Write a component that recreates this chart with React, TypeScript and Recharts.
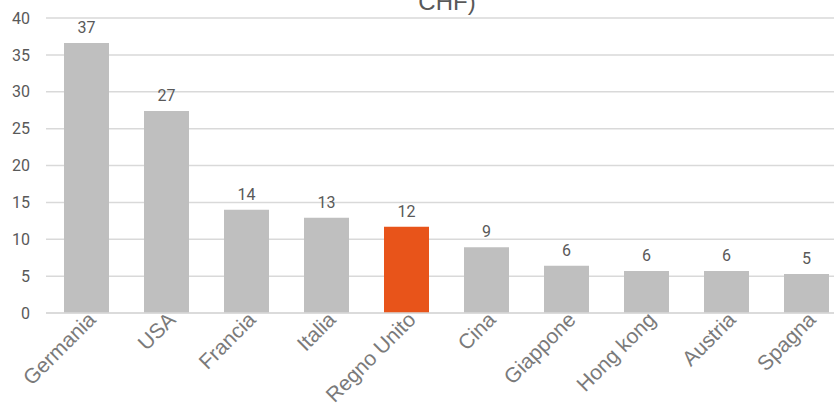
import React from 'react';
import { BarChart, Bar, XAxis, YAxis, CartesianGrid, LabelList, Cell } from 'recharts';

const countries = ['Germania', 'USA', 'Francia', 'Italia', 'Regno Unito', 'Cina', 'Giappone', 'Hong kong', 'Austria', 'Spagna'];
const values = [36.6, 27.4, 14.0, 12.9, 11.7, 8.9, 6.4, 5.7, 5.7, 5.3];
const highlight = 'Regno Unito';
const yTicks = [0, 5, 10, 15, 20, 25, 30, 35, 40];

const chartData = countries.map((name, i) => ({ name, value: values[i] }));

// rotated country names, anchored at their end just right of the bar centre
const CategoryTick = ({ x, y, payload }: any) => {
  const ax = x + 11;
  const ay = y;
  return (
    <text
      x={ax}
      y={ay}
      transform={`rotate(-45, ${ax}, ${ay})`}
      textAnchor="end"
      fill="#7a7a7a"
      fontSize={21}
      fontFamily="'Liberation Sans', Arial, sans-serif"
    >
      {payload.value}
    </text>
  );
};

export default function App() {
  return (
    <div style={{ position: 'absolute', left: 0, top: 0, width: 834, height: 403, overflow: 'hidden', background: '#fff' }}>
      <div
        style={{
          position: 'absolute', left: 347, width: 200, top: -12, textAlign: 'center',
          fontFamily: "'Liberation Sans', Arial, sans-serif", fontSize: 24, color: '#595959', lineHeight: '28px'
        }}
      >
        CHF)
      </div>
      <BarChart width={860} height={403} data={chartData} margin={{ top: 18, right: 14, bottom: 0, left: 0 }}>
        <CartesianGrid vertical={false} stroke="#d9d9d9" strokeWidth={1.5} />
        <XAxis
          dataKey="name"
          interval={0}
          height={90}
          tickLine={false}
          axisLine={{ stroke: '#d9d9d9', strokeWidth: 1.5 }}
          tick={<CategoryTick />}
        />
        <YAxis
          width={46}
          domain={[0, 40]}
          ticks={yTicks}
          axisLine={false}
          tickLine={false}
          tickSize={0}
          tickMargin={16}
          tick={{ fill: '#595959', fontSize: 16, fontFamily: 'Roboto, sans-serif' }}
        />
        <Bar dataKey="value" barSize={45} isAnimationActive={false}>
          {chartData.map((d) => (
            <Cell key={d.name} fill={d.name === highlight ? '#e8541a' : '#bfbfbf'} />
          ))}
          <LabelList
            dataKey="value"
            position="top"
            offset={10}
            formatter={(v: any) => Math.round(Number(v))}
            fill="#595959"
            fontSize={16}
            fontFamily="Roboto, sans-serif"
          />
        </Bar>
      </BarChart>
    </div>
  );
}
